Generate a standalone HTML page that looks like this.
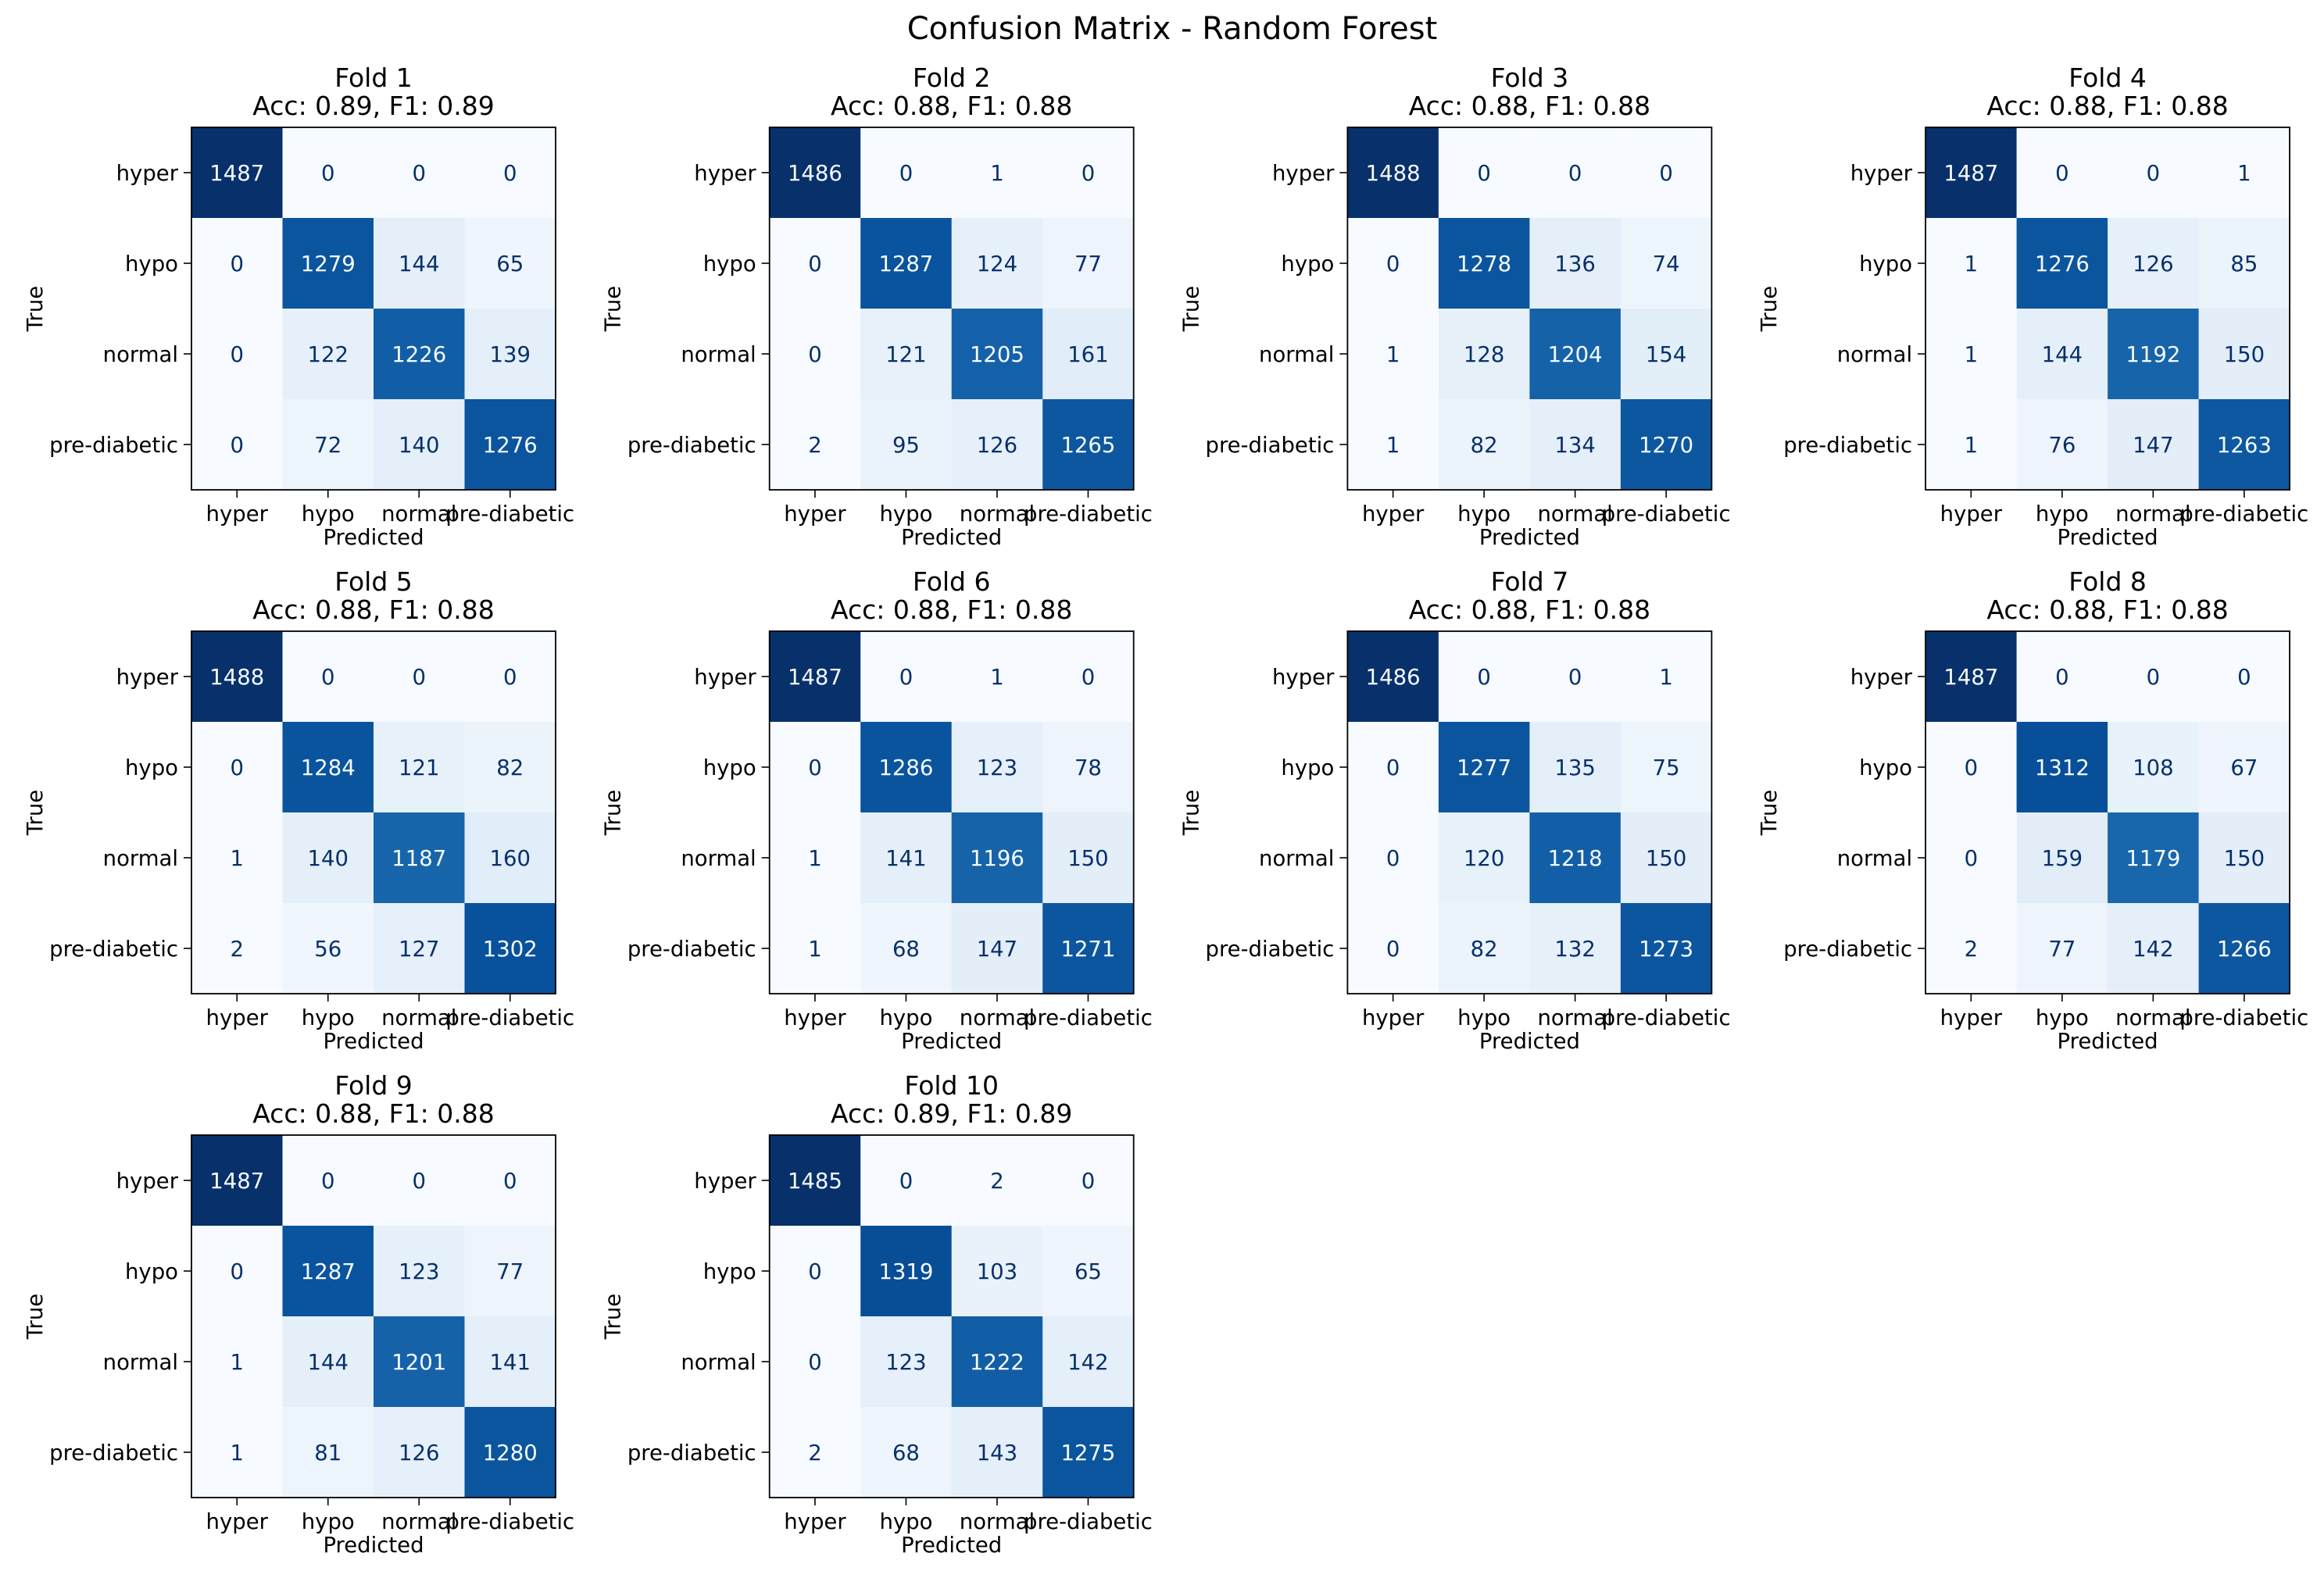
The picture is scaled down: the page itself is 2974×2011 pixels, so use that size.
<!DOCTYPE html>
<html><head><meta charset="utf-8"><style>
html,body{margin:0;padding:0;background:#fff;}
svg{display:block;font-family:"DejaVu Sans","Liberation Sans",sans-serif;}
</style></head><body>
<svg id="fig" width="2974" height="2011" viewBox="0 0 2974 2011" xmlns="http://www.w3.org/2000/svg">
<rect width="2974" height="2011" fill="#fff"/>
<text x="1500" y="50" font-size="40" text-anchor="middle">Confusion Matrix - Random Forest</text>
</svg>
<script>
const classLabels = ["hyper","hypo","normal","pre-diabetic"];
const foldNames = ["Fold 1","Fold 2","Fold 3","Fold 4","Fold 5","Fold 6","Fold 7","Fold 8","Fold 9","Fold 10"];
const accValues = [0.89,0.88,0.88,0.88,0.88,0.88,0.88,0.88,0.88,0.89];
const f1Values = [0.89,0.88,0.88,0.88,0.88,0.88,0.88,0.88,0.88,0.89];
const fold1 = [[1487,0,0,0],[0,1279,144,65],[0,122,1226,139],[0,72,140,1276]];
const fold2 = [[1486,0,1,0],[0,1287,124,77],[0,121,1205,161],[2,95,126,1265]];
const fold3 = [[1488,0,0,0],[0,1278,136,74],[1,128,1204,154],[1,82,134,1270]];
const fold4 = [[1487,0,0,1],[1,1276,126,85],[1,144,1192,150],[1,76,147,1263]];
const fold5 = [[1488,0,0,0],[0,1284,121,82],[1,140,1187,160],[2,56,127,1302]];
const fold6 = [[1487,0,1,0],[0,1286,123,78],[1,141,1196,150],[1,68,147,1271]];
const fold7 = [[1486,0,0,1],[0,1277,135,75],[0,120,1218,150],[0,82,132,1273]];
const fold8 = [[1487,0,0,0],[0,1312,108,67],[0,159,1179,150],[2,77,142,1266]];
const fold9 = [[1487,0,0,0],[0,1287,123,77],[1,144,1201,141],[1,81,126,1280]];
const fold10 = [[1485,0,2,0],[0,1319,103,65],[0,123,1222,142],[2,68,143,1275]];
const folds = [fold1,fold2,fold3,fold4,fold5,fold6,fold7,fold8,fold9,fold10];

const stops = ["#f7fbff","#deebf7","#c6dbef","#9ecae1","#6baed6","#4292c6","#2171b5","#08519c","#08306b"];
function hex(h){return [1,3,5].map(i=>parseInt(h.substr(i,2),16));}
function blues(t){
  t=Math.max(0,Math.min(1,t));
  const p=t*(stops.length-1), i=Math.min(Math.floor(p),stops.length-2), f=p-i;
  const a=hex(stops[i]), b=hex(stops[i+1]);
  return "rgb("+a.map((v,k)=>Math.round(v+(b[k]-v)*f)).join(",")+")";
}
const NS="http://www.w3.org/2000/svg";
const svg=document.getElementById("fig");
function mk(tag,attrs,parent,txt){
  const e=document.createElementNS(NS,tag);
  for(const k in attrs) e.setAttribute(k,attrs[k]);
  if(txt!==undefined) e.textContent=txt;
  parent.appendChild(e); return e;
}
const W=466, H=464, X0=245, DX=739.7, Y0=163, DY=645;
folds.forEach((m,fi)=>{
  const col=fi%4, row=Math.floor(fi/4);
  const L=X0+col*DX, T=Y0+row*DY;
  const g=mk("g",{},svg);
  
  
  const flat=m.flat(); const mn=Math.min(...flat), mx=Math.max(...flat);
  const cw=W/4, ch=H/4;
  const xs=c=>L+c*cw, ys=r=>T+r*ch;
  for(let r=0;r<4;r++)for(let c=0;c<4;c++){
    const v=m[r][c], t=(v-mn)/(mx-mn);
    const cell=mk("rect",{x:xs(c),y:ys(r),width:cw+0.5,height:ch+0.5,fill:blues(t)},g);
    
    
    const tx=mk("text",{x:xs(c)+cw/2,y:ys(r)+ch/2+10,"font-size":27.5,"text-anchor":"middle",fill:(t>0.5?"#f7fbff":"#08306b")},g,String(v));
    
    
  }
  const fr=mk("rect",{x:L,y:T,width:W,height:H,fill:"none",stroke:"#000","stroke-width":1.8},g);
  
  
  classLabels.forEach((lab,i)=>{
    mk("line",{x1:L,x2:L-10,y1:ys(i)+ch/2,y2:ys(i)+ch/2,stroke:"#000","stroke-width":1.6},g);
    const yl=mk("text",{x:L-17,y:ys(i)+ch/2+10,"font-size":27.5,"text-anchor":"end"},g,lab);
    
    
    mk("line",{x1:xs(i)+cw/2,x2:xs(i)+cw/2,y1:T+H,y2:T+H+10,stroke:"#000","stroke-width":1.6},g);
    const xl=mk("text",{x:xs(i)+cw/2,y:T+H+40,"font-size":27.5,"text-anchor":"middle"},g,lab);
    
    
  });
  const xt=mk("text",{x:L+W/2,y:T+H+70,"font-size":27.5,"text-anchor":"middle"},g,"Predicted");
  
  
  const yt=mk("text",{x:0,y:0,"font-size":27.5,"text-anchor":"middle",transform:"translate("+(L-191)+","+(T+H/2)+") rotate(-90)"},g,"True");
  
  
  const t1=mk("text",{x:L+W/2,y:T-52,"font-size":33,"text-anchor":"middle"},g,foldNames[fi]);
  
  
  const t2=mk("text",{x:L+W/2,y:T-16,"font-size":33,"text-anchor":"middle"},g,"Acc: "+accValues[fi].toFixed(2)+", F1: "+f1Values[fi].toFixed(2));
  
  
});
</script>
</body></html>
